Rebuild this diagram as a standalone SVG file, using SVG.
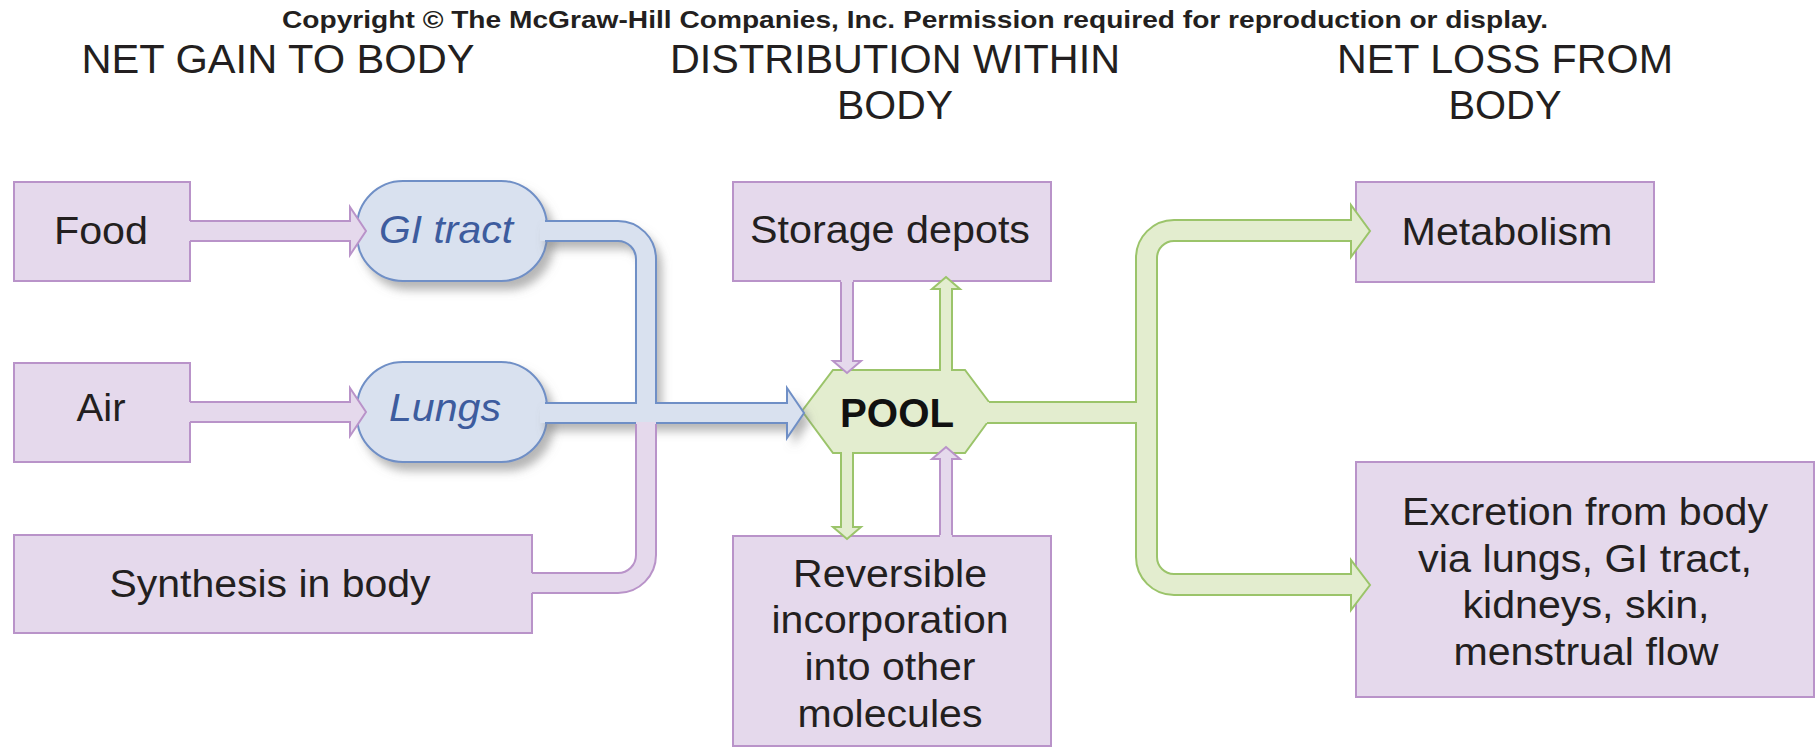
<svg xmlns="http://www.w3.org/2000/svg" width="1818" height="749" viewBox="0 0 1818 749">
  <defs>
    <filter id="shadow" x="-20%" y="-20%" width="150%" height="150%">
      <feDropShadow dx="6" dy="8" stdDeviation="5" flood-color="#7a7a7a" flood-opacity="0.55"/>
    </filter>
  </defs>
  <style>
    text { font-family: "Liberation Sans", Arial, sans-serif; fill: #231f20; text-anchor: middle; }
    .copy { font-size: 24px; font-weight: bold; }
    .hdr { font-size: 40px; }
    .lbl { font-size: 38px; }
    .blue-lbl { font-size: 38px; font-style: italic; fill: #3d5c9e; }
    .pool-lbl { font-size: 40px; font-weight: bold; fill: #111; }
    .box { fill: #e5d9ec; stroke: #b993c9; stroke-width: 2; }
    .pill { fill: #d9e1ef; stroke: #6f8fc6; stroke-width: 2; }
    .hex-fill { fill: #e3edcf; stroke: none; }
    .hex-line { fill: none; stroke: #9bc46a; stroke-width: 2; }
    .pf { fill: #e5d9ec; stroke: none; }
    .ps { fill: none; stroke: #b993c9; stroke-width: 2; stroke-linejoin: miter; }
    .bf { fill: #d9e1ef; stroke: none; }
    .bs { fill: none; stroke: #6f8fc6; stroke-width: 2; }
    .gf { fill: #e3edcf; stroke: none; }
    .gs { fill: none; stroke: #9bc46a; stroke-width: 2; }
  </style>

  <rect width="1818" height="749" fill="#ffffff"/>

  <!-- titles -->
  <g id="titles">
    <text class="copy" x="915" y="28" textLength="1266" lengthAdjust="spacingAndGlyphs">Copyright © The McGraw-Hill Companies, Inc. Permission required for reproduction or display.</text>
    <text class="hdr" x="278" y="73" textLength="393" lengthAdjust="spacingAndGlyphs">NET GAIN TO BODY</text>
    <text class="hdr" x="895" y="73" textLength="450" lengthAdjust="spacingAndGlyphs">DISTRIBUTION WITHIN</text>
    <text class="hdr" x="895" y="119" textLength="116" lengthAdjust="spacingAndGlyphs">BODY</text>
    <text class="hdr" x="1505" y="73" textLength="336" lengthAdjust="spacingAndGlyphs">NET LOSS FROM</text>
    <text class="hdr" x="1505" y="119" textLength="113" lengthAdjust="spacingAndGlyphs">BODY</text>
  </g>

  <!-- intake sources -->
  <g id="food">
    <rect class="box" x="14" y="182" width="176" height="99"/>
    <text class="lbl" x="101" y="244" textLength="94" lengthAdjust="spacingAndGlyphs">Food</text>
  </g>
  <g id="air">
    <rect class="box" x="14" y="363" width="176" height="99"/>
    <text class="lbl" x="101" y="421" textLength="49" lengthAdjust="spacingAndGlyphs">Air</text>
  </g>
  <g id="synthesis">
    <rect class="box" x="14" y="535" width="518" height="98"/>
    <text class="lbl" x="270" y="597" textLength="321" lengthAdjust="spacingAndGlyphs">Synthesis in body</text>
  </g>

  <!-- absorption routes -->
  <g id="gi-tract">
    <rect class="pill" x="357" y="181" width="190" height="100" rx="46" ry="46" filter="url(#shadow)"/>
    <text class="blue-lbl" x="446" y="243" textLength="134" lengthAdjust="spacingAndGlyphs">GI tract</text>
  </g>
  <g id="lungs">
    <rect class="pill" x="357" y="362" width="190" height="100" rx="46" ry="46" filter="url(#shadow)"/>
    <text class="blue-lbl" x="445" y="421" textLength="112" lengthAdjust="spacingAndGlyphs">Lungs</text>
  </g>

  <!-- distribution -->
  <g id="storage">
    <rect class="box" x="733" y="182" width="318" height="99"/>
    <text class="lbl" x="890" y="243" textLength="280" lengthAdjust="spacingAndGlyphs">Storage depots</text>
  </g>
  <g id="reversible">
    <rect class="box" x="733" y="536" width="318" height="210"/>
    <text class="lbl" x="890" y="587" textLength="194" lengthAdjust="spacingAndGlyphs">Reversible</text>
    <text class="lbl" x="890" y="633" textLength="237" lengthAdjust="spacingAndGlyphs">incorporation</text>
    <text class="lbl" x="890" y="680" textLength="171" lengthAdjust="spacingAndGlyphs">into other</text>
    <text class="lbl" x="890" y="727" textLength="185" lengthAdjust="spacingAndGlyphs">molecules</text>
  </g>
  <g id="pool">
    <polygon class="hex-fill" points="802,411 833,370 965,370 996,411 965,453 833,453"/>
    <path class="hex-line" d="M989,402 L965,370 H952 M940,370 H833 L802,411 L833,453 H841 M853,453 H965 L987,423"/>
  </g>

  <!-- losses -->
  <g id="metabolism">
    <rect class="box" x="1356" y="182" width="298" height="100"/>
    <text class="lbl" x="1507" y="245" textLength="211" lengthAdjust="spacingAndGlyphs">Metabolism</text>
  </g>
  <g id="excretion">
    <rect class="box" x="1356" y="462" width="458" height="235"/>
    <text class="lbl" x="1585" y="525" textLength="366" lengthAdjust="spacingAndGlyphs">Excretion from body</text>
    <text class="lbl" x="1585" y="572" textLength="334" lengthAdjust="spacingAndGlyphs">via lungs, GI tract,</text>
    <text class="lbl" x="1586" y="618" textLength="247" lengthAdjust="spacingAndGlyphs">kidneys, skin,</text>
    <text class="lbl" x="1586" y="665" textLength="265" lengthAdjust="spacingAndGlyphs">menstrual flow</text>
  </g>

  <g id="connectors">
    <!-- food / air into absorption routes -->
    <path class="pf" d="M186,221 H350 V207 L366,231 L350,255 V241 H186 Z"/>
    <path class="ps" d="M190,221 H350 V207 L366,231 L350,255 V241 H190"/>
    <path class="pf" d="M186,402 H350 V388 L366,412 L350,436 V422 H186 Z"/>
    <path class="ps" d="M190,402 H350 V388 L366,412 L350,436 V422 H190"/>

    <!-- absorbed material to the pool -->
    <path class="bf" filter="url(#shadow)" d="M540,221 H618 A38,38 0 0 1 656,259 V403 H787 V388 L804,413 L787,438 V423 H540 V403 H636 V259 A18,18 0 0 0 618,241 H540 Z"/>
    <path class="bs" d="M545,221 H618 A38,38 0 0 1 656,259 V403 H787 V388 L804,413 L787,438 V423 H656"/>
    <path class="bs" d="M545,241 H618 A18,18 0 0 1 636,259 V403 H545"/>
    <path class="bs" d="M545,423 H636"/>

    <!-- synthesis joining the stream -->
    <path class="pf" d="M525,573 H618 A18,18 0 0 0 636,555 V422 H656 V555 A38,38 0 0 1 618,593 H525 Z"/>
    <path class="ps" d="M532,593 H618 A38,38 0 0 0 656,555 V424"/>
    <path class="ps" d="M532,573 H618 A18,18 0 0 0 636,555 V424"/>

    <!-- exchange with storage depots -->
    <path class="pf" d="M841,278 V361 H833 L847,373 L861,361 H853 V278 Z"/>
    <path class="ps" d="M841,282 V361 H833 L847,373 L861,361 H853 V282"/>
    <path class="gf" d="M940,374 V289 H932 L946,277 L960,289 H952 V374 Z"/>
    <path class="gs" d="M940,371 V289 H932 L946,277 L960,289 H952 V371"/>

    <!-- exchange with other molecules -->
    <path class="gf" d="M841,449 V527 H833 L847,539 L861,527 H853 V449 Z"/>
    <path class="gs" d="M841,452 V527 H833 L847,539 L861,527 H853 V452"/>
    <path class="pf" d="M940,539 V459 H932 L946,447 L960,459 H952 V539 Z"/>
    <path class="ps" d="M940,535 V459 H932 L946,447 L960,459 H952 V535"/>

    <!-- losses from the pool -->
    <path class="gf" d="M980,402 H1136 V258 A38,38 0 0 1 1174,220 H1351 V205 L1370,231 L1351,257 V241 H1174 A17,17 0 0 0 1157,258 V557 A17,17 0 0 0 1174,574 H1351 V560 L1370,585 L1351,610 V595 H1174 A38,38 0 0 1 1136,557 V423 H980 Z"/>
    <path class="gs" d="M989,402 H1136 V258 A38,38 0 0 1 1174,220 H1351 V205 L1370,231 L1351,257 V241 H1174 A17,17 0 0 0 1157,258 V557 A17,17 0 0 0 1174,574 H1351 V560 L1370,585 L1351,610 V595 H1174 A38,38 0 0 1 1136,557 V423 H987"/>
  </g>

  <text class="pool-lbl" x="897" y="427" textLength="114" lengthAdjust="spacingAndGlyphs">POOL</text>
</svg>
